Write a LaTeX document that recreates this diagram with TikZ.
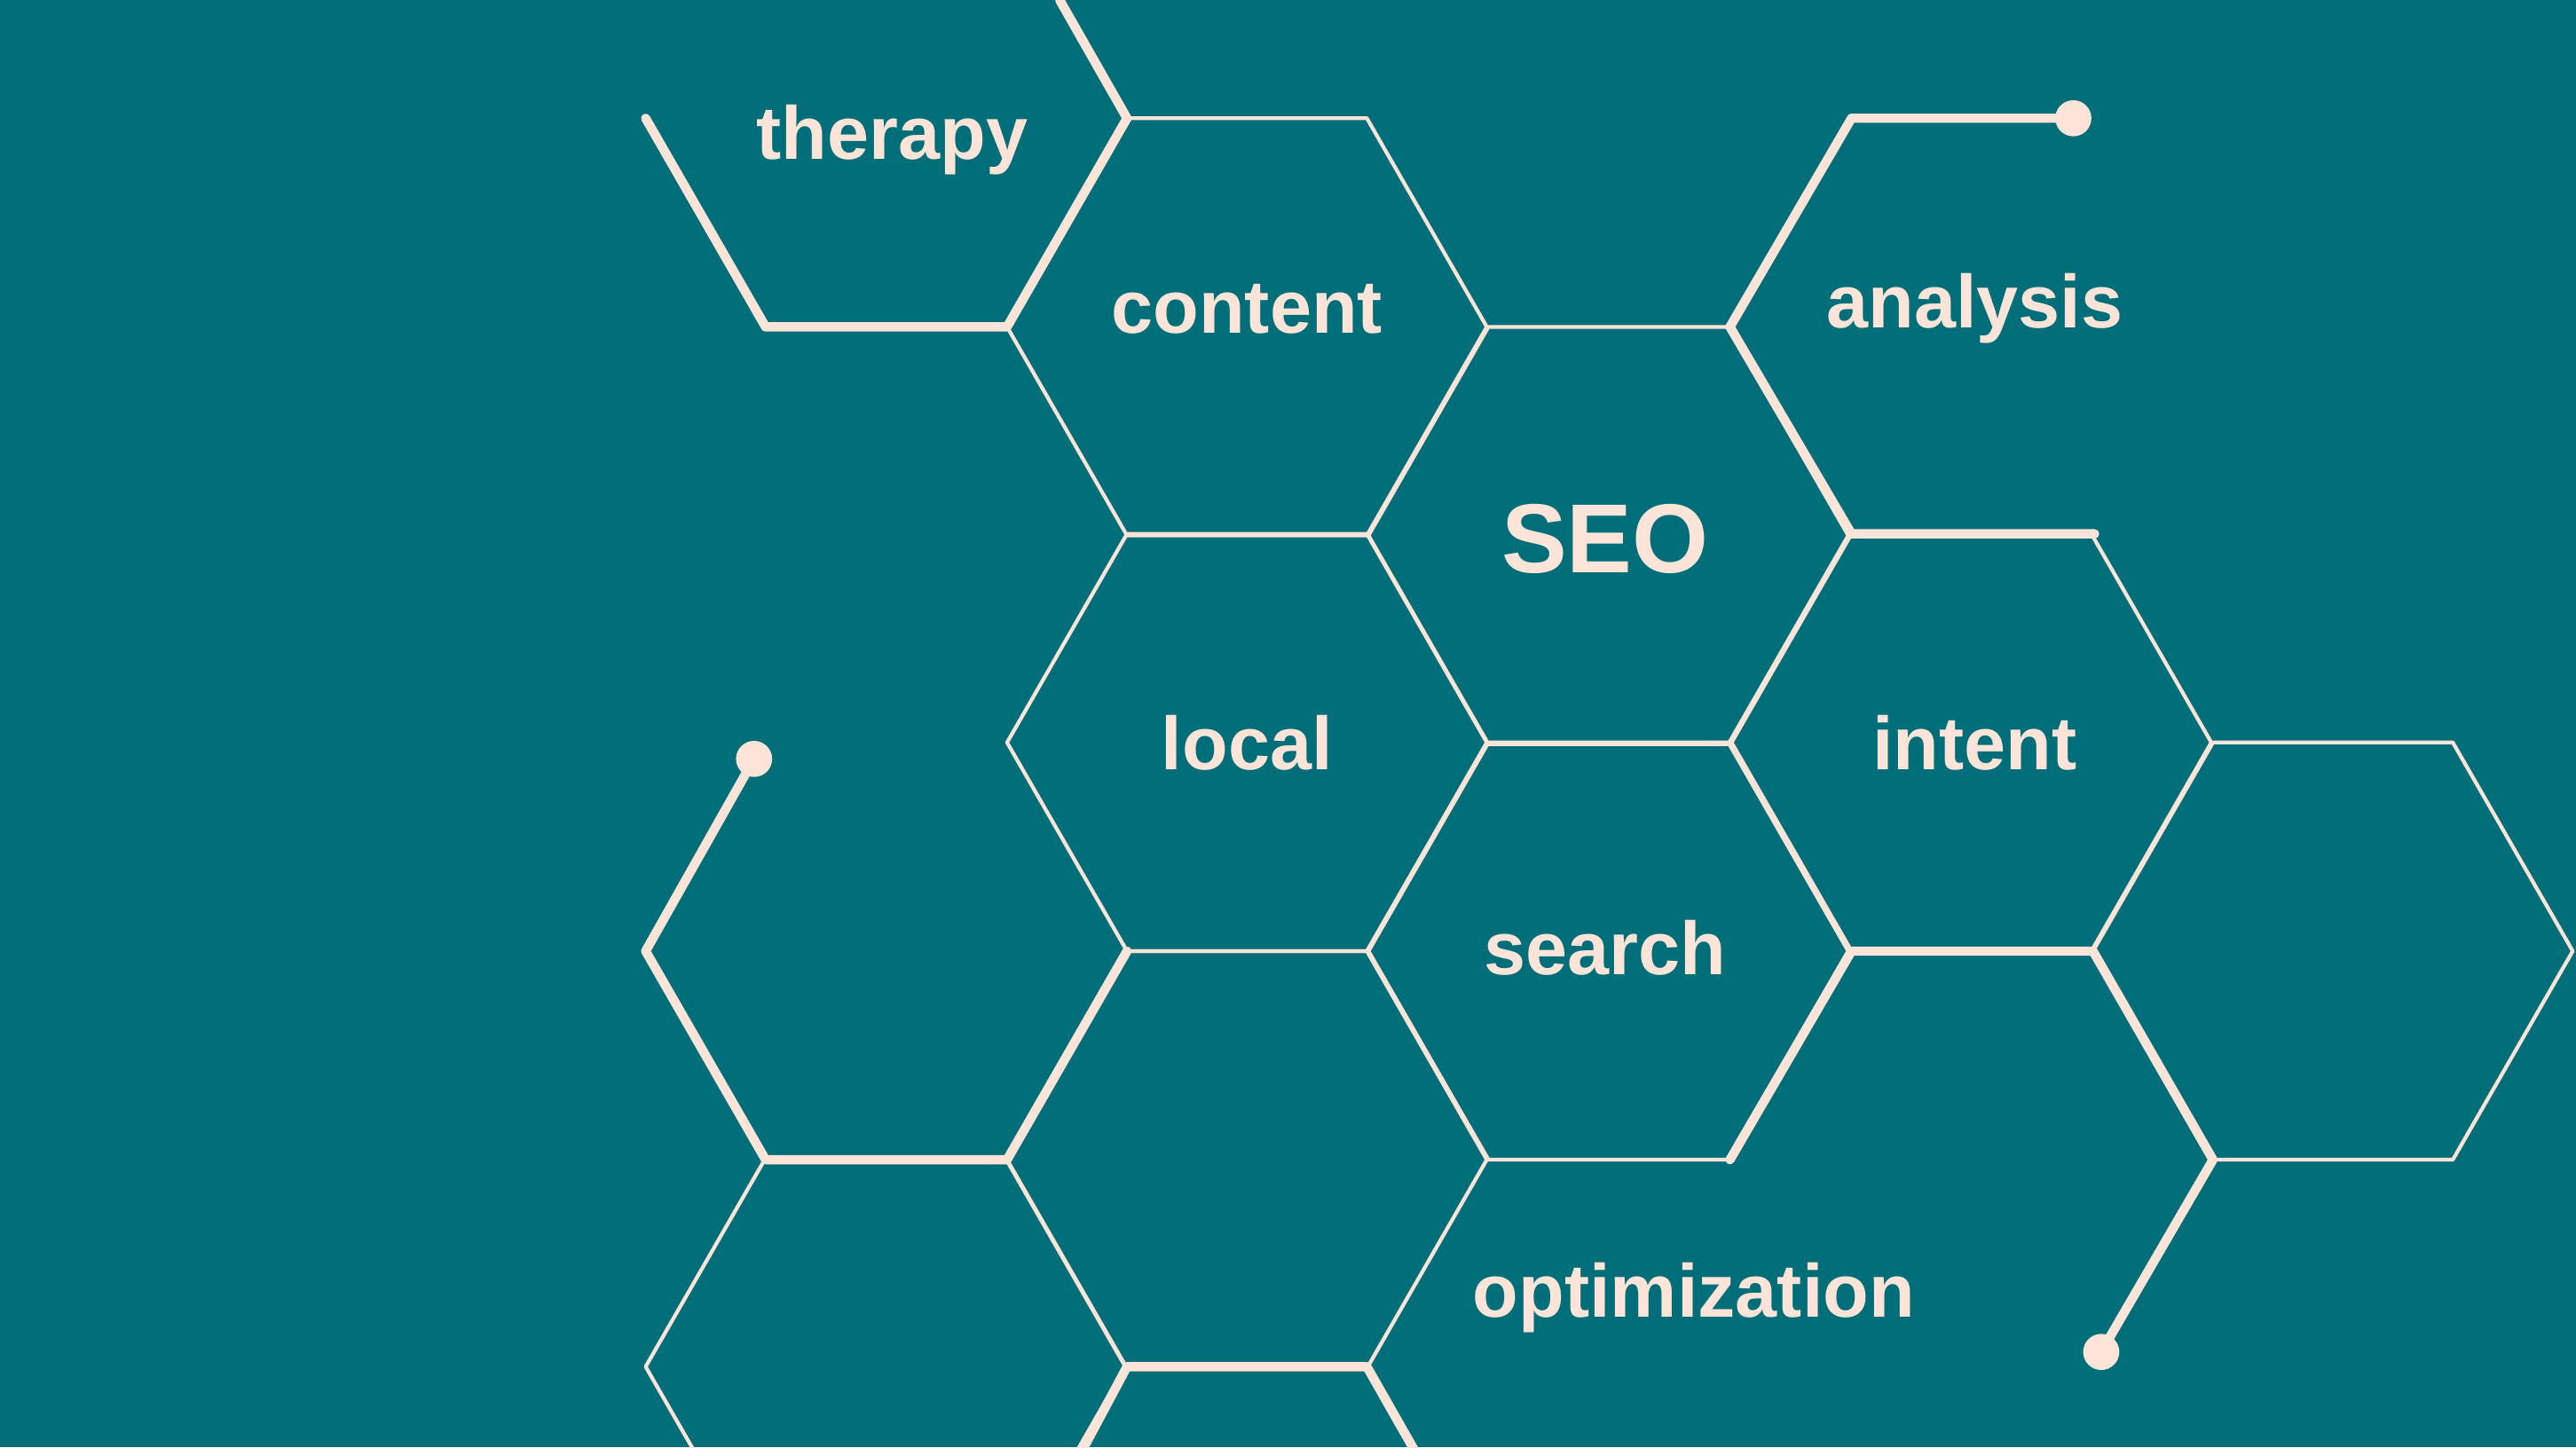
\documentclass[tikz,border=0pt]{standalone}
\usepackage{fontspec}
\setmainfont{Liberation Sans}
\definecolor{bg}{HTML}{006E78}
\definecolor{cream}{HTML}{FCE4D8}
\begin{document}
\begin{tikzpicture}[x=0.02cm,y=-0.02cm,
  thin line/.style={draw=cream,line width=1.3pt,line join=round},
  thick line/.style={draw=cream,line width=3.2pt,line join=round,line cap=round},
  word/.style={text=cream,font=\bfseries\fontsize{26}{26}\selectfont},
  dotmark/.style={circle,fill=cream,inner sep=0pt,minimum size=0.44cm}]
\fill[bg] (0,0) rectangle (1568,881);
\useasboundingbox (0,0) rectangle (1568,881);
\begin{scope}
\clip (0,0) rectangle (1568,881);
% thin hexagons
\foreach \cx/\cy in {759/199,979/326,759/452,979/579,1200/452,759/706,1420/579,539/832}{
  \draw[thin line] (\cx-146,\cy) -- (\cx-73,\cy-127) -- (\cx+73,\cy-127) -- (\cx+146,\cy) -- (\cx+73,\cy+127) -- (\cx-73,\cy+127) -- cycle;}
% thick paths
\coordinate (t1) at (393,72); \coordinate (t2) at (466,199); \coordinate (t3) at (613,199);
\coordinate (t4) at (686,72); \coordinate (t5) at (645,0);
\draw[thick line] (t1) -- (t2) -- (t3) -- (t4) -- (t5);
\node[dotmark] (d1) at (1262,72) {};
\coordinate (a1) at (1127,72); \coordinate (a2) at (1053,199); \coordinate (a3) at (1127,325); \coordinate (a4) at (1275,325);
\draw[thick line] (d1.center) -- (a1) -- (a2) -- (a3) -- (a4);
\node[dotmark] (d2) at (1279,823) {};
\coordinate (i1) at (1127,579); \coordinate (i2) at (1274,579); \coordinate (i3) at (1347,706);
\draw[thick line] (i1) -- (i2) -- (i3) -- (d2.center);
\coordinate (s1) at (1053,706);
\draw[thick line] (i1) -- (s1);
\node[dotmark] (d3) at (459,462) {};
\coordinate (l1) at (393,579); \coordinate (l2) at (466,706); \coordinate (l3) at (613,706); \coordinate (l4) at (686,579);
\draw[thick line] (d3.center) -- (l1) -- (l2) -- (l3) -- (l4);
\coordinate (b1) at (686,832); \coordinate (b2) at (832,832); \coordinate (b3) at (655,890); \coordinate (b4) at (865,890);
\draw[thick line] (b3) -- (b1) -- (b2) -- (b4);
\end{scope}
\node[word] (w1) at (543,85) {therapy};
\node[word] (w2) at (759,188) {content};
\node[word] (w3) at (1202,188) {analysis};
\node[word,font=\bfseries\fontsize{34}{34}\selectfont] (w4) at (977,328) {SEO};
\node[word] (w5) at (759,452) {local};
\node[word] (w6) at (1202,452) {intent};
\node[word] (w7) at (977,577) {search};
\node[word] (w8) at (1031,790) {optimization};
\end{tikzpicture}
\end{document}
